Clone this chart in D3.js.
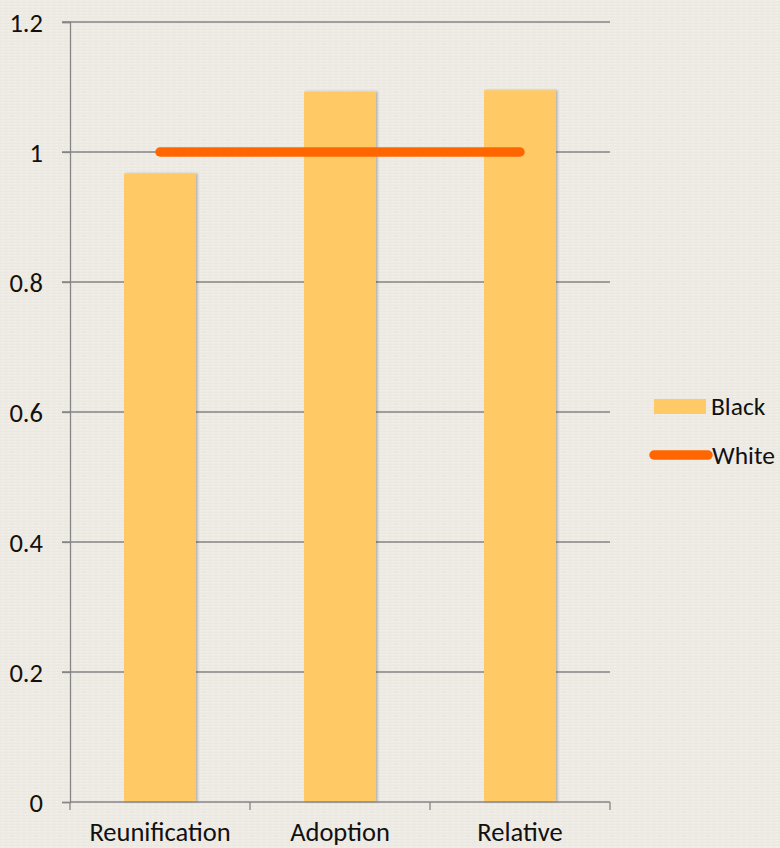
<!DOCTYPE html>
<html><head><meta charset="utf-8">
<script src="https://cdn.jsdelivr.net/npm/d3@7"></script>
<style>
html,body{margin:0;padding:0;background:#eeebe5;}
svg{display:block;}
text{font-family:Carlito,Lato,"Open Sans",sans-serif;fill:#111;}
</style></head><body>
<svg id="c" width="780" height="848"></svg>
<script>
const categories = ["Reunification","Adoption","Relative"];
const blackValues = [0.967, 1.093, 1.095];
const whiteValues = [1, 1, 1];
const yTicks = [0, 0.2, 0.4, 0.6, 0.8, 1, 1.2];
const yTickLabels = ["0","0.2","0.4","0.6","0.8","1","1.2"];
const seriesNames = ["Black","White"];

const svg = d3.select("#c");
const W = 780, H = 848;
const m = {left:70, right:170, top:22, bottom:46};
const FS = 26.5;

// background texture
const defs = svg.append("defs");
const pat = defs.append("pattern").attr("id","tex").attr("width",6).attr("height",3).attr("patternUnits","userSpaceOnUse");
pat.append("rect").attr("width",6).attr("height",3).attr("fill","#eeebe5");
pat.append("rect").attr("y",2).attr("width",6).attr("height",1).attr("fill","#ebe8e1");
pat.append("rect").attr("x",2).attr("y",0).attr("width",2).attr("height",1).attr("fill","#f2f0eb");
const sh = defs.append("filter").attr("id","sh").attr("x","-10%").attr("y","-5%").attr("width","130%").attr("height","110%");
sh.append("feDropShadow").attr("dx",1.5).attr("dy",0).attr("stdDeviation",1.2).attr("flood-color","#000").attr("flood-opacity",0.25);
svg.append("rect").attr("width",W).attr("height",H).attr("fill","url(#tex)");

const x = d3.scaleBand().domain(categories).range([m.left, W - m.right]).paddingInner(0.6).paddingOuter(0.3);
const xAxisScale = d3.scaleBand().domain(categories).range([m.left, W - m.right]);
const y = d3.scaleLinear().domain([0, 1.2]).range([H - m.bottom, m.top]);

// gridlines
svg.append("g").selectAll("line").data(yTicks.filter(d=>d>0)).join("line")
  .attr("x1", m.left - 8).attr("x2", W - m.right)
  .attr("y1", d=>y(d)).attr("y2", d=>y(d))
  .attr("stroke","#858585").attr("stroke-width",1.3);

// y axis
const yAxis = d3.axisLeft(y).tickValues(yTicks).tickFormat((d,i)=>yTickLabels[i]).tickSize(8).tickPadding(19);
const gy = svg.append("g").attr("transform",`translate(${m.left},0)`).call(yAxis);
gy.attr("font-size",null).attr("font-family",null);
gy.select(".domain").attr("stroke","#858585").attr("stroke-width",1.3);
gy.selectAll(".tick line").attr("stroke","#858585").attr("stroke-width",1.3);
gy.selectAll(".tick text").attr("font-size",FS).attr("fill","#111").attr("dy","0.34em");

// bars
svg.append("g").selectAll("rect").data(categories).join("rect")
  .attr("x", d=>x(d)).attr("width", x.bandwidth())
  .attr("y", (d,i)=>y(blackValues[i])).attr("height",(d,i)=>y(0)-y(blackValues[i]))
  .attr("fill","#ffc966").attr("filter","url(#sh)");

// x axis
const gx = svg.append("g").attr("transform",`translate(0,${H - m.bottom})`);
gx.append("line").attr("x1",m.left).attr("x2",W-m.right).attr("stroke","#858585").attr("stroke-width",1.3);
const bounds = categories.map(c=>xAxisScale(c)).concat([W - m.right]);
gx.selectAll(".tk").data(bounds).join("line").attr("class","tk")
  .attr("x1",d=>d).attr("x2",d=>d).attr("y1",0).attr("y2",8)
  .attr("stroke","#858585").attr("stroke-width",1.3);
gx.selectAll("text").data(categories).join("text")
  .attr("x", d=>xAxisScale(d)+xAxisScale.bandwidth()/2).attr("y",39)
  .attr("text-anchor","middle").attr("font-size",FS).text(d=>d);

// white line
const line = d3.line().x((d,i)=>xAxisScale(categories[i])+xAxisScale.bandwidth()/2).y(d=>y(d));
svg.append("path").datum(whiteValues).attr("d",line)
  .attr("fill","none").attr("stroke","#ff6600").attr("stroke-width",9.5).attr("stroke-linecap","round");

// legend
const lg = svg.append("g").attr("transform","translate(654,0)");
lg.append("rect").attr("x",0).attr("y",399).attr("width",52).attr("height",15).attr("fill","#ffc966");
lg.append("text").attr("x",57).attr("y",415).attr("font-size",FS-1).text(seriesNames[0]);
lg.append("line").attr("x1",0).attr("x2",54).attr("y1",455).attr("y2",455)
  .attr("stroke","#ff6600").attr("stroke-width",9.5).attr("stroke-linecap","round");
lg.append("text").attr("x",58).attr("y",464).attr("font-size",FS-1).text(seriesNames[1]);
</script>
</body></html>
